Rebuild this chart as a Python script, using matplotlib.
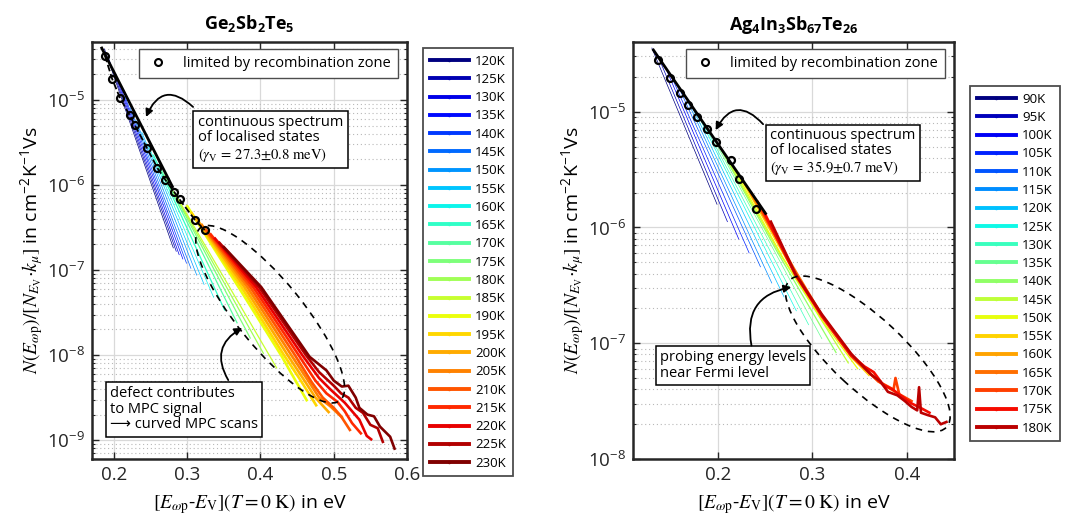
import matplotlib
matplotlib.use("Agg")
import matplotlib.pyplot as plt
import matplotlib.transforms as mtransforms
from matplotlib.lines import Line2D
from matplotlib.patches import Ellipse
import numpy as np

# ---- Ge2Sb2Te5 (left panel) ----
gst_temps = [120, 125, 130, 135, 140, 145, 150, 155, 160, 165, 170, 175,
             180, 185, 190, 195, 200, 205, 210, 215, 220, 225, 230]
gst_x = [
    [0.187, 0.281],
    [0.193, 0.285],
    [0.200, 0.289],
    [0.207, 0.294],
    [0.215, 0.299],
    [0.222, 0.305],
    [0.230, 0.313],
    [0.238, 0.323],
    [0.246, 0.336],
    [0.254, 0.351],
    [0.262, 0.368],
    [0.269, 0.386],
    [0.276, 0.404],
    [0.283, 0.422],
    [0.300, 0.370, 0.428, 0.463],
    [0.306, 0.374, 0.432, 0.455, 0.476],
    [0.313, 0.378, 0.437, 0.460, 0.475, 0.493],
    [0.320, 0.382, 0.442, 0.465, 0.480, 0.495, 0.511],
    [0.326, 0.386, 0.447, 0.470, 0.485, 0.500, 0.510, 0.522],
    [0.332, 0.390, 0.452, 0.475, 0.490, 0.505, 0.515, 0.525, 0.537],
    [0.338, 0.394, 0.457, 0.480, 0.495, 0.505, 0.515, 0.525, 0.535, 0.545, 0.551],
    [0.344, 0.398, 0.462, 0.480, 0.500, 0.510, 0.520, 0.530, 0.540, 0.550, 0.560, 0.567],
    [0.350, 0.401, 0.467, 0.490, 0.500, 0.511, 0.520, 0.530, 0.535, 0.546, 0.555,
     0.563, 0.570, 0.577, 0.583],
]
# exponents of N/[N*k] (log10)
gst_log_y = [
    [-4.40, -6.74],
    [-4.52, -6.78],
    [-4.66, -6.82],
    [-4.80, -6.87],
    [-4.96, -6.92],
    [-5.09, -6.98],
    [-5.24, -7.06],
    [-5.38, -7.17],
    [-5.52, -7.32],
    [-5.65, -7.47],
    [-5.78, -7.62],
    [-5.89, -7.80],
    [-6.00, -7.98],
    [-6.10, -8.15],
    [-6.25, -7.20, -8.00, -8.53],
    [-6.33, -7.20, -8.00, -8.30, -8.59],
    [-6.40, -7.20, -8.00, -8.30, -8.50, -8.67],
    [-6.47, -7.20, -8.00, -8.30, -8.50, -8.60, -8.73],
    [-6.53, -7.20, -8.00, -8.32, -8.50, -8.62, -8.72, -8.88],
    [-6.58, -7.20, -8.00, -8.30, -8.45, -8.55, -8.66, -8.80, -8.92],
    [-6.63, -7.20, -8.00, -8.27, -8.40, -8.48, -8.56, -8.66, -8.76, -8.95, -8.99],
    [-6.68, -7.20, -8.00, -8.20, -8.36, -8.45, -8.50, -8.62, -8.68, -8.82, -8.86, -9.02],
    [-6.73, -7.20, -8.02, -8.18, -8.30, -8.37, -8.36, -8.50, -8.62, -8.70, -8.72,
     -8.84, -8.90, -8.96, -9.10],
]
gst_circ_x = [0.1877, 0.1974, 0.2083, 0.2215, 0.2281, 0.2447, 0.2592, 0.2702,
              0.2820, 0.2895, 0.3105, 0.3237]
gst_circ_log_y = [-4.48, -4.75, -4.98, -5.18, -5.29, -5.56, -5.80, -5.94,
                  -6.08, -6.17, -6.41, -6.53]
gst_fit_x = [0.1833, 0.2798]
gst_fit_log_y = [-4.39, -6.02]
gst_yticks = [1e-9, 1e-8, 1e-7, 1e-6, 1e-5]

# ---- Ag4In3Sb67Te26 (right panel) ----
ait_temps = [90, 95, 100, 105, 110, 115, 120, 125, 130, 135, 140, 145,
             150, 155, 160, 165, 170, 175, 180]
ait_x = [
    [0.130, 0.199],
    [0.137, 0.210],
    [0.144, 0.222],
    [0.151, 0.233],
    [0.158, 0.245],
    [0.165, 0.257],
    [0.172, 0.270],
    [0.179, 0.283],
    [0.186, 0.296],
    [0.193, 0.310],
    [0.200, 0.262, 0.325],
    [0.207, 0.265, 0.338],
    [0.214, 0.268, 0.310, 0.348],
    [0.221, 0.272, 0.310, 0.341, 0.360],
    [0.228, 0.276, 0.310, 0.341, 0.372],
    [0.235, 0.280, 0.310, 0.341, 0.370, 0.388],
    [0.242, 0.282, 0.310, 0.341, 0.370, 0.386, 0.388, 0.392, 0.405],
    [0.249, 0.282, 0.310, 0.341, 0.355, 0.365, 0.375, 0.385, 0.395, 0.405, 0.415, 0.424],
    [0.256, 0.282, 0.310, 0.341, 0.362, 0.372, 0.380, 0.390, 0.398, 0.405, 0.411,
     0.413, 0.415, 0.422, 0.430, 0.436, 0.442],
]
ait_log_y = [
    [-4.45, -5.80],
    [-4.53, -5.95],
    [-4.61, -6.10],
    [-4.70, -6.22],
    [-4.78, -6.34],
    [-4.86, -6.48],
    [-4.95, -6.60],
    [-5.03, -6.72],
    [-5.12, -6.84],
    [-5.20, -6.96],
    [-5.28, -6.20, -7.08],
    [-5.37, -6.22, -7.17],
    [-5.45, -6.25, -6.80, -7.22],
    [-5.53, -6.27, -6.76, -7.12, -7.28],
    [-5.62, -6.30, -6.76, -7.10, -7.34],
    [-5.70, -6.35, -6.76, -7.10, -7.33, -7.42],
    [-5.78, -6.40, -6.77, -7.11, -7.33, -7.40, -7.30, -7.44, -7.50],
    [-5.87, -6.41, -6.76, -7.10, -7.20, -7.25, -7.36, -7.40, -7.46, -7.52, -7.56, -7.60],
    [-5.95, -6.40, -6.75, -7.09, -7.27, -7.33, -7.42, -7.45, -7.50, -7.55, -7.58,
     -7.38, -7.60, -7.62, -7.64, -7.70, -7.68],
]
ait_circ_x = [0.1363, 0.1497, 0.1593, 0.1681, 0.1777, 0.1887, 0.1982, 0.2135,
              0.2219, 0.2407]
ait_circ_log_y = [-4.55, -4.71, -4.84, -4.94, -5.05, -5.15, -5.26, -5.42,
                  -5.58, -5.84]
ait_fit_x = [0.1316, 0.2504]
ait_fit_log_y = [-4.467, -5.879]
ait_yticks = [1e-8, 1e-7, 1e-6, 1e-5]

plt.rcParams['font.family'] = ['Open Sans', 'DejaVu Sans']
plt.rcParams['mathtext.fontset'] = 'custom'
plt.rcParams['mathtext.rm'] = 'STIXGeneral'
plt.rcParams['mathtext.it'] = 'STIXGeneral:italic'
plt.rcParams['mathtext.bf'] = 'Open Sans:bold'
plt.rcParams['mathtext.sf'] = 'Open Sans'

YLABEL = (r'$N(E_{\omega\mathrm{p}})/[N_{E_\mathrm{V}}{\cdot}k_{\mu}]$ in '
          r'cm$^{\mathdefault{-2}}$K$^{\mathdefault{-1}}$Vs')
XLABEL = r'$[E_{\omega\mathrm{p}}$-$E_{\mathrm{V}}](T = 0\ \mathrm{K})$ in eV'
GAMMA_TXT = r'$(\gamma_{\mathrm{V}}\, =\, %s\ \mathrm{meV})$'


def draw_panel(fig, ax, temps, xs, log_ys, circ_x, circ_log_y, fit_x, fit_log_y,
               cnorm, thin_n, mid_n, circ_dashed):
    cmap = plt.get_cmap('jet')
    handles = []
    for i, t in enumerate(temps):
        c = cmap(i / cnorm)
        if i < thin_n:
            lw = 0.5
        elif i < mid_n:
            lw = 0.9
        else:
            lw = 1.9
        ax.plot(xs[i], 10 ** np.array(log_ys[i]), color=c, lw=lw, zorder=2)
        handles.append(Line2D([], [], color=c, lw=2.8, marker='.', ms=3))

    ax.plot(fit_x, 10 ** np.array(fit_log_y), color='k', lw=2.0, zorder=4)
    ax.plot(circ_x, 10 ** np.array(circ_log_y), ls='--' if circ_dashed else 'none',
            color='k', lw=1.3, marker='o', mfc='none', mec='k', mew=1.6, ms=5, zorder=5)

    ax.set_yscale('log')
    ax.grid(True, which='major', color='0.85', lw=0.9)
    ax.grid(True, which='minor', axis='y', color='0.72', lw=0.8, ls=(0, (1, 2.5)))
    ax.set_axisbelow(True)
    ax.tick_params(which='both', direction='in', top=True, right=True,
                   labelsize=13.5, colors='0.15')
    ax.tick_params(which='major', length=5, width=1.0, pad=5)
    ax.tick_params(which='minor', length=2.5, width=0.8)
    for s in ax.spines.values():
        s.set_linewidth(1.8)
        s.set_color('0.15')
    ax.set_xlabel(XLABEL, fontsize=14, labelpad=6)
    ax.set_ylabel(YLABEL, fontsize=14, labelpad=1)

    rec = Line2D([], [], ls='none', marker='o', mfc='none', mec='k', mew=1.5, ms=5)
    lg = ax.legend([rec], ['limited by recombination zone'], loc='upper right',
                   bbox_to_anchor=(0.972, 0.984), borderaxespad=0, fancybox=False,
                   framealpha=1, edgecolor='0.3', fontsize=10.5, handlelength=1.6,
                   handletextpad=0.9, borderpad=0.5)
    lg.get_frame().set_linewidth(1.0)
    return handles


fig = plt.figure(figsize=(10.72, 5.25), dpi=100)
ax1 = fig.add_axes([92 / 1072, 1 - 459 / 525, 315 / 1072, 417 / 525])
ax2 = fig.add_axes([633 / 1072, 1 - 459 / 525, 321 / 1072, 417 / 525])

h1 = draw_panel(fig, ax1, gst_temps, gst_x, gst_log_y, gst_circ_x, gst_circ_log_y,
                gst_fit_x, gst_fit_log_y, 22, 9, 14, True)
h2 = draw_panel(fig, ax2, ait_temps, ait_x, ait_log_y, ait_circ_x, ait_circ_log_y,
                ait_fit_x, ait_fit_log_y, 19, 10, 15, False)

ax1.set_yticks(gst_yticks)
ax1.set_xlim(0.17, 0.6)
ax1.set_ylim(6.0e-10, 4.8e-5)
ax1.set_xticks([0.2, 0.3, 0.4, 0.5, 0.6])
ax2.set_yticks(ait_yticks)
ax2.set_xlim(0.11, 0.45)
ax2.set_ylim(1e-8, 4.0e-5)
ax2.set_xticks([0.2, 0.3, 0.4])

ax1.set_title(r'$\mathbf{Ge_2Sb_2Te_5}$', fontsize=13, pad=9)
ax2.set_title(r'$\mathbf{Ag_4In_3Sb_{67}Te_{26}}$', fontsize=13, pad=9)

# temperature legends to the right of each panel
for h, temps, x0, y0 in [(h1, gst_temps, 423, 48), (h2, ait_temps, 970, 86)]:
    lg = fig.legend(h, ['%dK' % t for t in temps], loc='upper left',
                    bbox_to_anchor=(x0 / 1072, 1 - y0 / 525), borderaxespad=0,
                    fancybox=False, framealpha=1, edgecolor='0.3', fontsize=9.5,
                    handlelength=3.0, handletextpad=0.45, labelspacing=0.40,
                    borderpad=0.5)
    lg.get_frame().set_linewidth(1.3)

box = dict(boxstyle='square,pad=0.3', fc='white', ec='k', lw=1.1)
ax1.text(0.336, 0.826, 'continuous spectrum\nof localised states\n' + GAMMA_TXT % r'27.3{\pm}0.8',
         transform=ax1.transAxes, ha='left', va='top', fontsize=10.5, bbox=box,
         linespacing=1.05, zorder=6)
ax1.text(0.057, 0.175, 'defect contributes\nto MPC signal\n\u27f6 curved MPC scans',
         transform=ax1.transAxes, ha='left', va='top', fontsize=10.5, bbox=box,
         linespacing=1.05, zorder=6)
ax2.text(0.427, 0.794, 'continuous spectrum\nof localised states\n' + GAMMA_TXT % r'35.9{\pm}0.7',
         transform=ax2.transAxes, ha='left', va='top', fontsize=10.5, bbox=box,
         linespacing=1.05, zorder=6)
ax2.text(0.084, 0.261, 'probing energy levels\nnear Fermi level',
         transform=ax2.transAxes, ha='left', va='top', fontsize=10.5, bbox=box,
         linespacing=1.05, zorder=6)

arrow = dict(arrowstyle='-|>', color='k', lw=1.3, mutation_scale=11, shrinkA=0, shrinkB=0)
ax1.annotate('', xy=(0.2437, 6.3e-6), xytext=(0.308, 8.27e-6),
             arrowprops=dict(arrow, connectionstyle='arc3,rad=0.7'), zorder=7)
ax1.annotate('', xy=(0.375, 2.09e-8), xytext=(0.356, 5.08e-9),
             arrowprops=dict(arrow, connectionstyle='arc3,rad=-0.5'), zorder=7)
ax2.annotate('', xy=(0.1975, 6.93e-6), xytext=(0.2478, 7.8e-6),
             arrowprops=dict(arrow, connectionstyle='arc3,rad=0.7'), zorder=7)
ax2.annotate('', xy=(0.2777, 3.05e-7), xytext=(0.2355, 9.55e-8),
             arrowprops=dict(arrow, connectionstyle='arc3,rad=-0.5'), zorder=7)

# dashed ellipses around the deviating high temperature scans (size in inches)
for ax, xc, yc, w, h, ang in [(ax1, 0.4132, 10 ** -7.52, 2.22, 0.66, -51),
                              (ax2, 0.3587, 10 ** -7.092, 2.15, 0.72, -43)]:
    trans = fig.dpi_scale_trans + mtransforms.ScaledTranslation(xc, yc, ax.transData)
    e = Ellipse((0, 0), w, h, angle=ang, transform=trans, fill=False,
                ec='k', lw=1.2, ls=(0, (4, 3.5)), zorder=3)
    ax.add_artist(e)

fig.savefig('out.png', dpi=100)
